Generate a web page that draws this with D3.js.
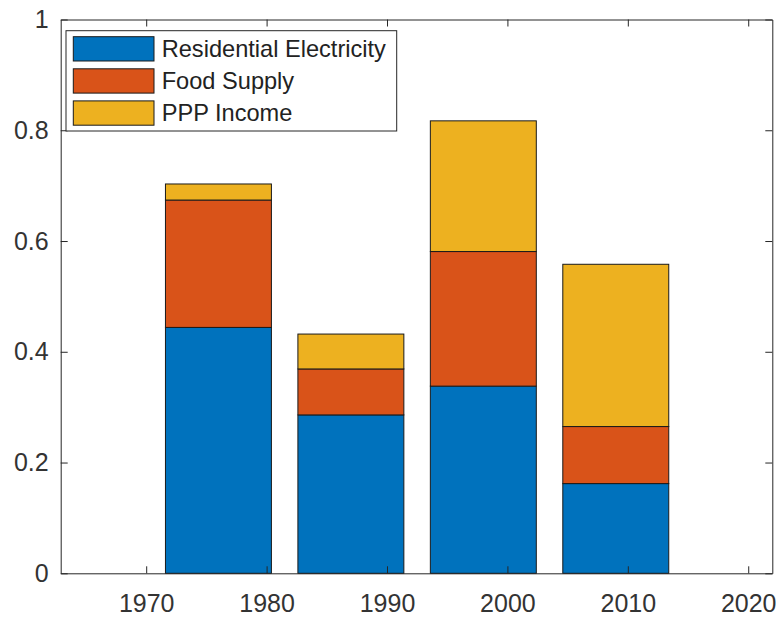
<!DOCTYPE html>
<html>
<head>
<meta charset="utf-8">
<script src="https://cdn.jsdelivr.net/npm/d3@7"></script>
<style>
  html, body { margin: 0; padding: 0; background: #fff; }
  svg { display: block; font-family: "Liberation Sans", Arial, sans-serif; }
</style>
</head>
<body>
<svg id="chart" width="776" height="617"></svg>
<script>
// Stacked contributions by decade
const years = [1976, 1987, 1998, 2009];
const seriesNames = ["Residential Electricity", "Food Supply", "PPP Income"];
const residentialElectricity = [0.444, 0.286, 0.338, 0.162];
const foodSupply = [0.230, 0.083, 0.243, 0.103];
const pppIncome = [0.029, 0.063, 0.236, 0.293];
const colors = ["#0072BD", "#D95319", "#EDB120"];
const xTicks = [1970, 1980, 1990, 2000, 2010, 2020];
const yTicks = [0, 0.2, 0.4, 0.6, 0.8, 1];

const rows = years.map((yr, i) => ({
  year: yr,
  "Residential Electricity": residentialElectricity[i],
  "Food Supply": foodSupply[i],
  "PPP Income": pppIncome[i]
}));

const svg = d3.select("#chart");
const plotLeft = 60.7, plotRight = 772.3, plotTop = 19.5, plotBottom = 573.3;

const x = d3.scaleLinear().domain([1962.9, 2022]).range([plotLeft, plotRight]);
const y = d3.scaleLinear().domain([0, 1]).range([plotBottom, plotTop]);
const barWidth = 8.8; // in years

const stacked = d3.stack().keys(seriesNames)(rows);

const g = svg.append("g");
stacked.forEach((layer, k) => {
  g.selectAll(null)
    .data(layer)
    .join("rect")
    .attr("x", d => x(d.data.year - barWidth / 2))
    .attr("width", d => x(d.data.year + barWidth / 2) - x(d.data.year - barWidth / 2))
    .attr("y", d => y(d[1]))
    .attr("height", d => y(d[0]) - y(d[1]))
    .attr("fill", colors[k])
    .attr("stroke", "#1a1a1a")
    .attr("stroke-width", 1);
});

// Axes box with inward ticks on all four sides
const axisColor = "#262626";
const tickLen = 7;
const fontSize = 25;

const xBottom = d3.axisBottom(x).tickValues(xTicks).tickFormat(d3.format("d"))
  .tickSizeInner(-tickLen).tickSizeOuter(0).tickPadding(21);
const xTop = d3.axisTop(x).tickValues(xTicks).tickFormat("")
  .tickSizeInner(-tickLen).tickSizeOuter(0);
const yLeft = d3.axisLeft(y).tickValues(yTicks).tickFormat(d => d3.format("~g")(d))
  .tickSizeInner(-tickLen).tickSizeOuter(0).tickPadding(12);
const yRight = d3.axisRight(y).tickValues(yTicks).tickFormat("")
  .tickSizeInner(-tickLen).tickSizeOuter(0);

function styleAxis(sel) {
  sel.select(".domain").attr("stroke", axisColor).attr("stroke-width", 1);
  sel.selectAll(".tick line").attr("stroke", axisColor).attr("stroke-width", 1);
  sel.selectAll(".tick text").attr("fill", "#333").attr("font-size", fontSize)
    .attr("font-family", "'Liberation Sans', Arial, sans-serif");
}

svg.append("g").attr("transform", `translate(0,${plotBottom})`).call(xBottom).call(styleAxis);
svg.append("g").attr("transform", `translate(0,${plotTop})`).call(xTop).call(styleAxis);
svg.append("g").attr("transform", `translate(${plotLeft},0)`).call(yLeft).call(styleAxis);
svg.append("g").attr("transform", `translate(${plotRight},0)`).call(yRight).call(styleAxis);

// Legend
const legend = svg.append("g").attr("transform", "translate(66,30.7)");
legend.append("rect")
  .attr("width", 330.7).attr("height", 100.3)
  .attr("fill", "#fff").attr("stroke", axisColor).attr("stroke-width", 1);
const rowH = 32.1;
seriesNames.forEach((name, k) => {
  const gy = 6 + k * rowH;
  legend.append("rect")
    .attr("x", 7.3).attr("y", gy)
    .attr("width", 80.7).attr("height", 24.3)
    .attr("fill", colors[k]).attr("stroke", "#1a1a1a").attr("stroke-width", 1);
  legend.append("text")
    .attr("x", 95.7).attr("y", gy + 12.2)
    .attr("dy", "0.35em")
    .attr("font-size", 23.6)
    .attr("fill", "#222")
    .text(name);
});
</script>
</body>
</html>
